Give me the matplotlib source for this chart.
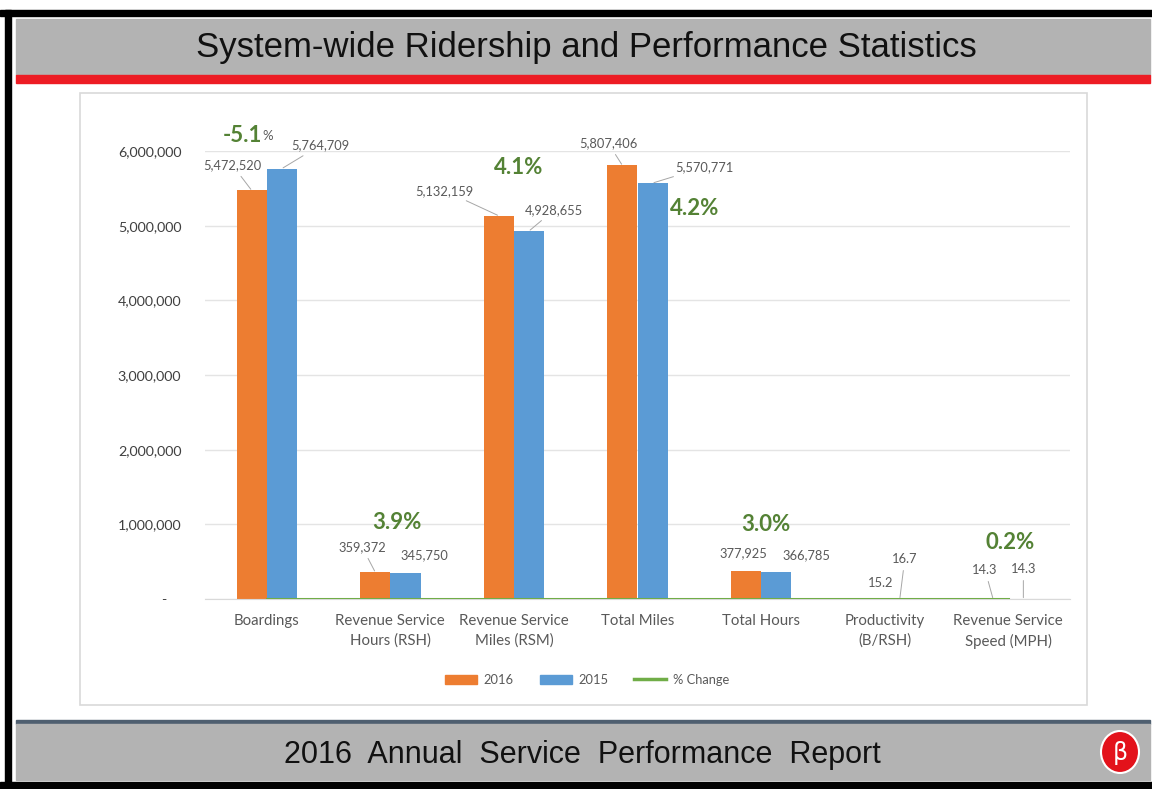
import matplotlib.pyplot as plt
import numpy as np
from matplotlib.patches import Rectangle, Ellipse, Patch
from matplotlib.lines import Line2D
from matplotlib.ticker import FuncFormatter

categories = ["Boardings", "Revenue Service\nHours (RSH)", "Revenue Service\nMiles (RSM)",
              "Total Miles", "Total Hours", "Productivity\n(B/RSH)", "Revenue Service\nSpeed (MPH)"]
values_2016 = [5472520, 359372, 5132159, 5807406, 377925, 15.2, 14.3]
values_2015 = [5764709, 345750, 4928655, 5570771, 366785, 16.7, 14.3]
labels_2016 = ["5,472,520", "359,372", "5,132,159", "5,807,406", "377,925", "15.2", "14.3"]
labels_2015 = ["5,764,709", "345,750", "4,928,655", "5,570,771", "366,785", "16.7", "14.3"]
pct_change = [-5.1, 3.9, 4.1, 4.2, 3.0, -9.0, 0.2]
pct_labels = ["-5.1", "3.9%", "4.1%", "4.2%", "3.0%", None, "0.2%"]

# label placement (pixel offsets from the bar top)
off_2016 = [(-19, 25), (-13, 25), (-54, 25), (-14, 22), (-3, 18), (11, 16), (-8, 29)]
off_2015 = [(38, 23), (19, 18), (25, 21), (52, 16), (30, 16), (5, 40), (0, 30)]
lead_2016 = [True, True, True, True, False, False, True]
lead_2015 = [True, False, True, True, False, True, True]
off_pct = [(-24, 33), (7, 50), (5, 48), (57, -43), (5, 46), (0, 0), (2, 56)]

ORANGE = "#ED7D31"
BLUE = "#5B9BD5"
GREEN = "#70AD47"
DKGREEN = "#548235"
GRAY_TXT = "#595959"
FONT = "Lato"
HEAD = ["Liberation Sans", "DejaVu Sans"]

W, H = 1152, 789
fig = plt.figure(figsize=(W / 100, H / 100), dpi=100)

# background frame drawn in pixel coordinates
bg = fig.add_axes([0, 0, 1, 1])
bg.set_xlim(0, W)
bg.set_ylim(H, 0)
bg.axis("off")
bg.add_patch(Rectangle((0, 10), W, 6, color="black"))
bg.add_patch(Rectangle((5, 10), 6, 779, color="black"))
bg.add_patch(Rectangle((0, 782), W, 7, color="black"))
bg.add_patch(Rectangle((16, 19), 1134, 56, color="#b3b3b3"))
bg.add_patch(Rectangle((16, 75), 1134, 8, color="#ed1c24"))
bg.add_patch(Rectangle((16, 720), 1134, 4, color="#4f5f70"))
bg.add_patch(Rectangle((16, 724), 1134, 56, color="#b3b3b3"))
bg.add_patch(Rectangle((80, 93), 1007, 612, facecolor="white", edgecolor="#d9d9d9", lw=1.2))
bg.text(586, 47, "System-wide Ridership and Performance Statistics", family=HEAD,
        fontsize=25, color="#111111", ha="center", va="center")
bg.text(582, 755, "2016  Annual  Service  Performance  Report", family=HEAD,
        fontsize=22, color="#111111", ha="center", va="center")
bg.add_patch(Ellipse((1120, 752), 38, 42, facecolor="#e3121b", edgecolor="white", lw=1.5))
bg.text(1120, 753, "β", fontsize=17, color="white", ha="center", va="center",
        family="DejaVu Sans")

ax = fig.add_axes([205 / W, 1 - 599 / H, 865 / W, 448 / H])
x = np.arange(len(categories))
w = 0.245
ax.bar(x - w / 2, values_2016, w, color=ORANGE, zorder=2)
ax.bar(x + w / 2, values_2015, w, color=BLUE, zorder=2)
ax.plot(x, np.array(pct_change) / 100, color=GREEN, lw=2.2, zorder=3)

ax.set_xlim(-0.5, len(categories) - 0.5)
ax.set_ylim(0, 6000000)
ax.set_yticks(np.arange(0, 6000001, 1000000))
ax.yaxis.set_major_formatter(FuncFormatter(lambda v, p: "-    " if v == 0 else f"{v:,.0f}"))
ax.grid(axis="y", color="#e4e4e4", lw=1, zorder=0)
ax.set_axisbelow(True)
for s in ["top", "right", "left"]:
    ax.spines[s].set_visible(False)
ax.spines["bottom"].set_color("#d9d9d9")
ax.tick_params(axis="y", length=0, pad=17, labelsize=10.3, labelcolor="#404040")
ax.tick_params(axis="x", length=0, pad=11, labelsize=10.8, labelcolor=GRAY_TXT)
ax.set_xticks(x)
ax.set_xticklabels(categories, family=FONT, linespacing=1.45)
for t in ax.get_yticklabels():
    t.set_family(FONT)
ax.patch.set_alpha(0)

lead = dict(arrowstyle="-", color="#a6a6a6", lw=0.7, shrinkA=2, shrinkB=1)
for i in range(len(categories)):
    ax.annotate(labels_2016[i], xy=(x[i] - w / 2, values_2016[i]), xytext=off_2016[i],
                textcoords="offset pixels", ha="center", va="center", fontsize=9.3,
                family=FONT, color=GRAY_TXT, annotation_clip=False,
                arrowprops=lead if lead_2016[i] else None)
    ax.annotate(labels_2015[i], xy=(x[i] + w / 2, values_2015[i]), xytext=off_2015[i],
                textcoords="offset pixels", ha="center", va="center", fontsize=9.3,
                family=FONT, color=GRAY_TXT, annotation_clip=False,
                arrowprops=lead if lead_2015[i] else None)
    if pct_labels[i] is None:
        continue
    top = max(values_2016[i], values_2015[i])
    t = ax.annotate(pct_labels[i], xy=(x[i], top), xytext=off_pct[i],
                    textcoords="offset pixels", ha="center", va="center", fontsize=16,
                    family=FONT, weight="bold", color=DKGREEN, annotation_clip=False)
    if not pct_labels[i].endswith("%"):
        ax.annotate("%", xy=(1, 0.2), xycoords=t, xytext=(0, 0), textcoords="offset pixels",
                    ha="left", va="bottom", fontsize=9.5, family=FONT, color=GRAY_TXT)

handles = [Patch(color=ORANGE, label="2016"), Patch(color=BLUE, label="2015"),
           Line2D([], [], color=GREEN, lw=2.5, label="% Change")]
leg = fig.legend(handles=handles, loc="center", bbox_to_anchor=(587 / W, 1 - 680 / H),
                 ncol=3, frameon=False, fontsize=9.3, handlelength=2.5, handleheight=0.8,
                 columnspacing=2.0, handletextpad=0.5)
for t in leg.get_texts():
    t.set_family(FONT)
    t.set_color(GRAY_TXT)

fig.savefig("out.png", dpi=100)
